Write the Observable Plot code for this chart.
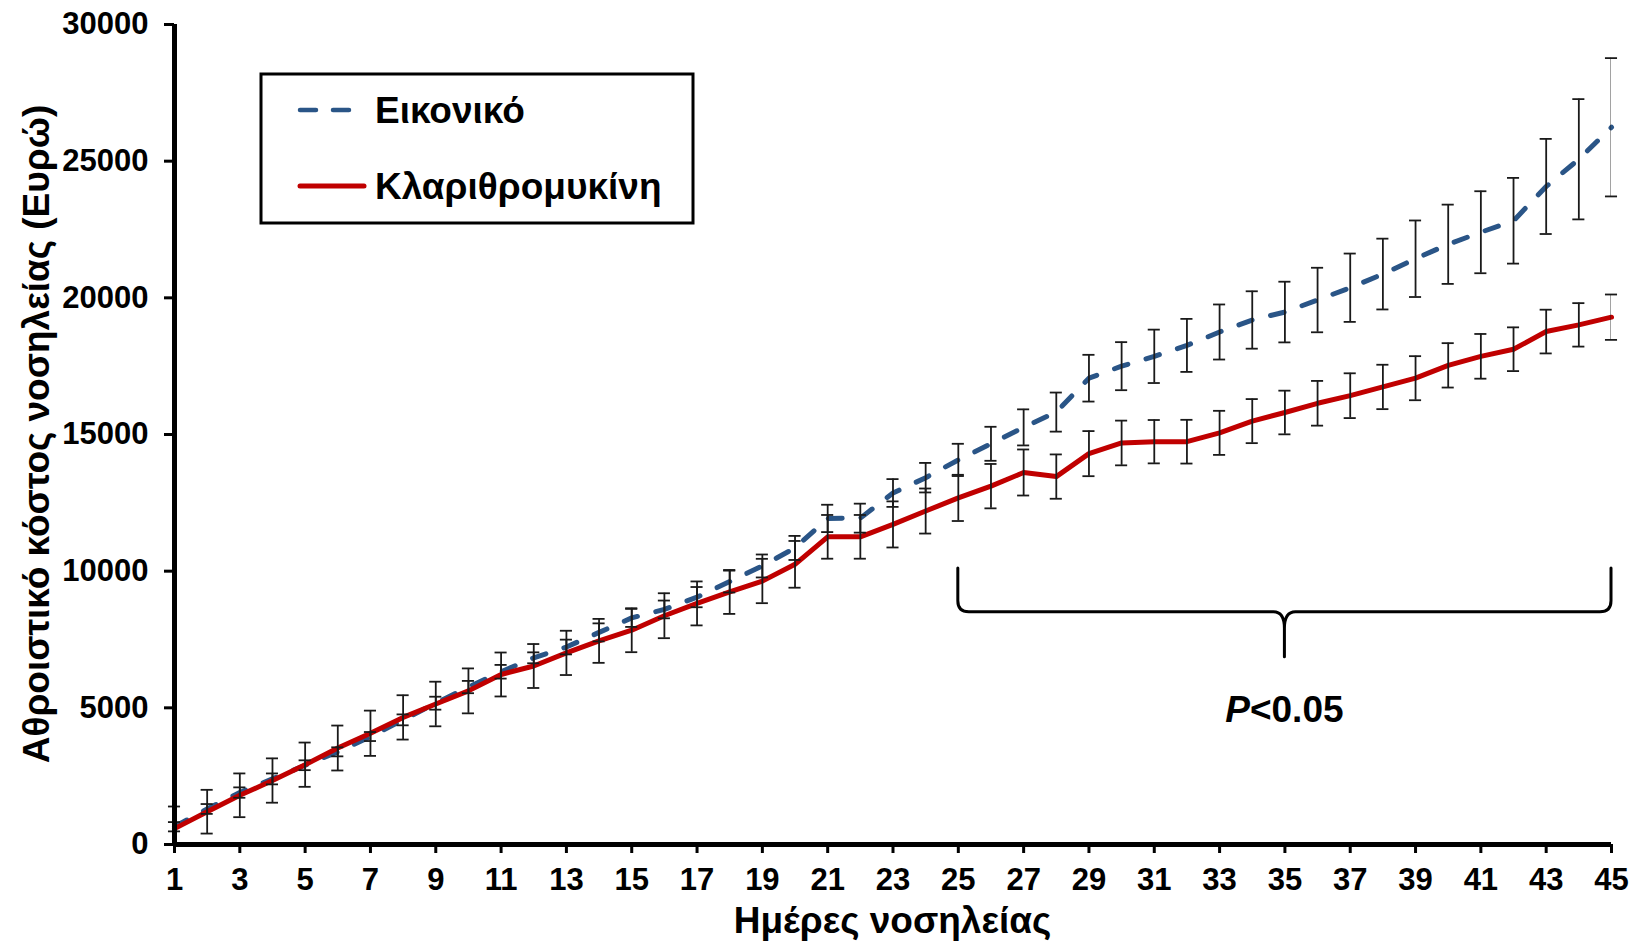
<!DOCTYPE html>
<html>
<head>
<meta charset="utf-8">
<script src="https://cdn.jsdelivr.net/npm/d3@7"></script>
<script src="https://cdn.jsdelivr.net/npm/@observablehq/plot@0.6"></script>
<style>
  html, body { margin: 0; padding: 0; background: #ffffff; }
  #chart { width: 1637px; height: 943px; }
</style>
</head>
<body>
<div id="chart"></div>
<script>
// ---------------- data ----------------
const days = [1,2,3,4,5,6,7,8,9,10,11,12,13,14,15,16,17,18,19,20,21,22,23,24,25,26,27,28,29,30,31,32,33,34,35,36,37,38,39,40,41,42,43,44,45];

const seriesNames = ["Εικονικό", "Κλαριθρομυκίνη"];

// Εικονικό (placebo) – mean cumulative cost and error
const placebo = [650,1300,1900,2400,2900,3390,3950,4560,5170,5760,6320,6830,7225,7760,8290,8600,9050,9620,10190,10850,11930,11940,12860,13420,14070,14660,15260,15820,17060,17500,17860,18260,18750,19190,19480,19920,20370,20870,21430,21960,22400,22820,24075,25070,26240];
const placeboErr = [170,180,190,200,180,165,165,200,237,225,250,200,270,330,330,325,370,400,420,440,500,530,508,540,590,622,660,715,855,879,977,970,1007,1050,1110,1180,1250,1295,1400,1450,1500,1568,1740,2200,2530];

// Κλαριθρομυκίνη – mean cumulative cost and error
const clari = [580,1200,1800,2340,2920,3530,4070,4650,5140,5620,6220,6530,7010,7450,7840,8370,8820,9240,9640,10250,11256,11256,11710,12200,12680,13110,13610,13460,14300,14690,14737,14737,15060,15490,15805,16142,16420,16740,17060,17530,17860,18120,18766,19011,19292];
const clariErr = [810,800,800,811,810,822,828,811,816,822,804,804,810,804,804,822,804,804,811,855,800,800,843,824,845,812,842,811,825,818,793,800,806,806,799,818,819,812,806,812,818,800,800,795,830];

const xTicks = [1,3,5,7,9,11,13,15,17,19,21,23,25,27,29,31,33,35,37,39,41,43,45];
const yTicks = [0,5000,10000,15000,20000,25000,30000];

const xTitle = "Ημέρες νοσηλείας";
const yTitle = "Αθροιστικό κόστος νοσηλείας (Ευρώ)";

// significance annotation
const braceDays = [25, 35, 45];          // start, middle, end
const braceLevels = [10100, 8500, 6850]; // top, horizontal, tip
const pText = ["P", "<0.05"];
const pDay = 35;
const pValue = 4470;

// ---------------- styles ----------------
const BLUE = "#2A5587";
const RED = "#C00000";
const FONT = "'Liberation Sans', Arial, Helvetica, sans-serif";
const CAP = 0.185; // half cap width in days
const TICK_FS = 31;
const TITLE_FS = 37;

const rowsP = days.map((d, i) => ({day: d, value: placebo[i], err: placeboErr[i], series: seriesNames[0]}));
const rowsC = days.map((d, i) => ({day: d, value: clari[i], err: clariErr[i], series: seriesNames[1]}));
const allRows = rowsP.concat(rowsC);
const capsHi = allRows.filter(d => d.value + d.err <= 30000);
const capsLo = allRows.filter(d => d.value - d.err >= 0);

const W = 1637, H = 943;

const plot = Plot.plot({
  width: W,
  height: H,
  marginLeft: 174,
  marginRight: 26,
  marginTop: 24,
  marginBottom: 99,
  style: {background: "#ffffff", fontFamily: FONT, color: "#000"},
  x: {domain: [1, 45]},
  y: {domain: [0, 30000]},
  marks: [
    Plot.line(rowsP, {x: "day", y: "value", stroke: BLUE, strokeWidth: 5, strokeDasharray: "14,19", strokeLinecap: "round", strokeLinejoin: "round"}),
    Plot.line(rowsC, {x: "day", y: "value", stroke: RED, strokeWidth: 5, strokeLinejoin: "round"}),
    Plot.ruleX(allRows, {x: "day", y1: d => d.value - d.err, y2: d => d.value + d.err, stroke: "#1a1a1a", strokeWidth: 1.8, clip: true}),
    Plot.ruleY(capsHi, {y: d => d.value + d.err, x1: d => d.day - CAP, x2: d => d.day + CAP, stroke: "#1a1a1a", strokeWidth: 1.8}),
    Plot.ruleY(capsLo, {y: d => d.value - d.err, x1: d => d.day - CAP, x2: d => d.day + CAP, stroke: "#1a1a1a", strokeWidth: 1.8}),
    Plot.axisY({ticks: yTicks, tickSize: 10, tickPadding: 16, tickFormat: d => String(d), fontSize: TICK_FS, fontWeight: "bold", stroke: "#000", strokeWidth: 3, label: null}),
    Plot.axisX({ticks: xTicks, tickSize: 9, tickPadding: 14, tickFormat: d => String(d), fontSize: TICK_FS, fontWeight: "bold", stroke: "#000", strokeWidth: 3, label: null}),
    Plot.ruleX([1], {stroke: "#000", strokeWidth: 5}),
    Plot.ruleY([0], {stroke: "#000", strokeWidth: 5})
  ]
});

document.getElementById("chart").appendChild(plot);

const sx = plot.scale("x");
const sy = plot.scale("y");
const svg = d3.select(plot);

// axis titles
svg.append("text")
  .attr("x", (sx.apply(1) + sx.apply(45)) / 2)
  .attr("y", 933)
  .attr("text-anchor", "middle")
  .attr("font-family", FONT).attr("font-weight", "bold").attr("font-size", TITLE_FS)
  .attr("fill", "#000")
  .text(xTitle);

svg.append("text")
  .attr("transform", `translate(49,${(sy.apply(0) + sy.apply(30000)) / 2}) rotate(-90)`)
  .attr("text-anchor", "middle")
  .attr("font-family", FONT).attr("font-weight", "bold").attr("font-size", TITLE_FS)
  .attr("fill", "#000")
  .text(yTitle);

// brace
const x0 = sx.apply(braceDays[0]), xm = sx.apply(braceDays[1]), x1 = sx.apply(braceDays[2]);
const yT = sy.apply(braceLevels[0]), yM = sy.apply(braceLevels[1]), yTip = sy.apply(braceLevels[2]);
const r = 11;
const bracePath = [
  `M${x0},${yT} L${x0},${yM - r} Q${x0},${yM} ${x0 + r},${yM} L${xm - r},${yM} Q${xm},${yM} ${xm},${yM + r * 1.5} L${xm},${yTip}`,
  `M${x1},${yT} L${x1},${yM - r} Q${x1},${yM} ${x1 - r},${yM} L${xm + r},${yM} Q${xm},${yM} ${xm},${yM + r * 1.5}`
].join(" ");
svg.append("path")
  .attr("d", bracePath)
  .attr("fill", "none").attr("stroke", "#000").attr("stroke-width", 3)
  .attr("stroke-linejoin", "round").attr("stroke-linecap", "round");

const pt = svg.append("text")
  .attr("x", sx.apply(pDay)).attr("y", sy.apply(pValue))
  .attr("text-anchor", "middle")
  .attr("font-family", FONT).attr("font-weight", "bold").attr("font-size", TITLE_FS)
  .attr("fill", "#000");
pt.append("tspan").attr("font-style", "italic").text(pText[0]);
pt.append("tspan").text(pText[1]);

// legend
const lg = svg.append("g");
lg.append("rect")
  .attr("x", 261).attr("y", 74).attr("width", 432).attr("height", 149)
  .attr("fill", "#fff").attr("stroke", "#000").attr("stroke-width", 3);
lg.append("line")
  .attr("x1", 300).attr("x2", 349).attr("y1", 110).attr("y2", 110)
  .attr("stroke", BLUE).attr("stroke-width", 4.5).attr("stroke-dasharray", "16,17").attr("stroke-linecap", "round");
lg.append("line")
  .attr("x1", 300).attr("x2", 364).attr("y1", 186).attr("y2", 186)
  .attr("stroke", RED).attr("stroke-width", 5).attr("stroke-linecap", "round");
lg.append("text")
  .attr("x", 375).attr("y", 123)
  .attr("text-anchor", "start")
  .attr("font-family", FONT).attr("font-weight", "bold").attr("font-size", TITLE_FS).attr("fill", "#000")
  .text(seriesNames[0]);
lg.append("text")
  .attr("x", 375).attr("y", 199)
  .attr("text-anchor", "start")
  .attr("font-family", FONT).attr("font-weight", "bold").attr("font-size", TITLE_FS).attr("fill", "#000")
  .text(seriesNames[1]);
</script>
</body>
</html>
